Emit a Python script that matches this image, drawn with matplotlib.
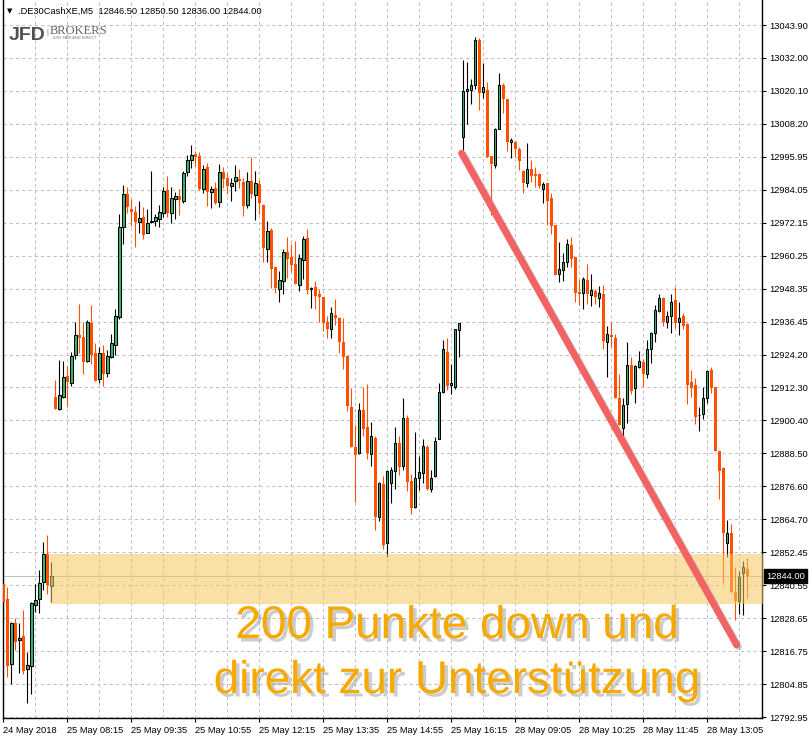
import numpy as np
import matplotlib.pyplot as plt
import matplotlib.patheffects as pe

plt.rcParams['font.family'] = ['Liberation Sans', 'DejaVu Sans']

# M5 candles, .DE30CashXE, 24-28 May 2018
opens = [
    12841.2, 12835.7, 12812.2, 12827.0, 12820.9, 12822.3, 12810.4, 12811.6, 12833.6, 12835.7,
    12841.9, 12852.1, 12840.5, 12908.9, 12904.5, 12908.9, 12916.6, 12914.2, 12924.1, 12931.5,
    12930.8, 12922.2, 12935.9, 12924.8, 12915.4, 12924.8, 12917.8, 12923.6, 12927.7, 12938.1,
    12970.5, 12982.6, 12977.1, 12976.1, 12972.6, 12974.2, 12968.4, 12972.6, 12972.7, 12973.7,
    12975.6, 12984.1, 12975.8, 12980.9, 12981.9, 12980.2, 12990.5, 12995.0, 12997.1, 12996.4,
    12984.3, 12992.3, 12983.2, 12984.7, 12979.8, 12990.6, 12988.3, 12985.4, 12987.2, 12988.0,
    12987.0, 12978.6, 12987.3, 12982.1, 12986.2, 12978.6, 12962.6, 12969.6, 12956.0, 12948.1,
    12951.1, 12961.5, 12959.7, 12957.2, 12949.7, 12958.6, 12966.6, 12948.2, 12948.8, 12946.4,
    12945.3, 12936.2, 12933.6, 12938.7, 12937.6, 12929.0, 12923.9, 12905.5, 12891.0, 12888.6,
    12904.3, 12898.0, 12888.2, 12894.1, 12865.6, 12877.4, 12856.2, 12877.9, 12882.3, 12892.2,
    12884.1, 12901.3, 12878.4, 12869.2, 12879.5, 12881.6, 12891.0, 12875.5, 12880.3, 12893.9,
    12910.8, 12925.3, 12913.2, 12912.7, 12933.3, 13003.4, 13020.1, 13020.3, 13022.0, 13038.5,
    13019.5, 13020.3, 12996.4, 12993.2, 13006.3, 13022.0, 13017.2, 13001.4, 13001.5, 12998.9,
    12991.1, 12986.7, 12991.6, 12989.9, 12989.9, 12984.5, 12986.5, 12981.2, 12971.4, 12953.6,
    12955.0, 12958.1, 12964.1, 12959.9, 12947.1, 12946.8, 12951.4, 12946.0, 12947.6, 12945.0,
    12946.5, 12929.1, 12931.4, 12930.5, 12908.5, 12897.9, 12906.3, 12920.5, 12912.4, 12919.8,
    12921.6, 12917.3, 12926.3, 12932.3, 12940.2, 12944.8, 12936.3, 12938.3, 12944.0, 12936.3,
    12938.4, 12935.4, 12914.4, 12913.5, 12902.3, 12902.7, 12908.5, 12918.8, 12912.5, 12889.5,
    12883.4, 12856.2, 12859.6, 12838.2, 12834.9, 12845.1, 12846.5]
highs = [
    12843.4, 12840.1, 12827.5, 12829.0, 12827.0, 12831.8, 12816.6, 12834.8, 12841.2, 12846.3,
    12856.4, 12859.0, 12849.3, 12915.2, 12922.4, 12922.1, 12920.2, 12925.3, 12936.2, 12942.7,
    12936.3, 12936.9, 12942.4, 12928.6, 12927.2, 12928.0, 12926.0, 12931.8, 12940.8, 12975.4,
    12985.9, 12985.3, 12980.9, 12978.3, 12980.1, 12977.8, 12977.2, 12991.0, 12975.4, 12978.5,
    12985.3, 12989.3, 12985.1, 12983.4, 12984.4, 12991.1, 12996.9, 13000.4, 12998.2, 12997.9,
    12993.1, 12993.9, 12985.5, 12987.0, 12993.5, 12992.5, 12990.3, 12988.5, 12993.1, 12991.7,
    12988.3, 12990.6, 12996.2, 12991.0, 12987.7, 12978.9, 12972.8, 12970.2, 12956.0, 12954.7,
    12962.6, 12967.1, 12964.4, 12965.6, 12960.9, 12967.4, 12970.0, 12948.8, 12951.2, 12948.3,
    12945.3, 12938.4, 12941.6, 12944.5, 12938.1, 12937.6, 12923.9, 12912.3, 12898.8, 12906.7,
    12912.5, 12913.7, 12899.9, 12894.8, 12878.3, 12880.3, 12882.5, 12883.7, 12898.0, 12894.8,
    12908.6, 12902.4, 12881.1, 12896.3, 12887.6, 12893.9, 12891.6, 12882.5, 12894.6, 12914.0,
    12929.7, 12930.4, 12921.0, 12933.8, 12935.9, 13031.2, 13030.5, 13024.2, 13039.7, 13039.1,
    13030.2, 13023.3, 12996.4, 13006.6, 13026.4, 13022.8, 13017.2, 13002.8, 13001.9, 12999.8,
    12991.3, 13001.0, 12994.9, 12992.5, 12990.1, 12987.0, 12986.7, 12982.9, 12971.4, 12965.2,
    12961.1, 12966.2, 12966.9, 12959.9, 12951.4, 12952.6, 12957.2, 12953.6, 12948.1, 12949.3,
    12949.5, 12934.7, 12936.2, 12931.7, 12917.3, 12908.5, 12929.0, 12923.4, 12920.7, 12925.6,
    12922.7, 12929.7, 12932.7, 12942.4, 12946.4, 12945.4, 12940.3, 12946.4, 12949.0, 12943.6,
    12939.6, 12935.7, 12918.8, 12915.8, 12905.5, 12912.5, 12918.8, 12920.0, 12912.5, 12889.5,
    12883.7, 12864.4, 12863.0, 12847.2, 12846.0, 12849.5, 12850.5]
lows = [
    12827.5, 12807.5, 12804.9, 12817.3, 12809.0, 12808.5, 12798.0, 12801.3, 12831.1, 12830.8,
    12839.0, 12837.6, 12834.8, 12904.5, 12904.3, 12908.6, 12905.5, 12913.0, 12922.9, 12925.1,
    12917.3, 12921.7, 12921.0, 12914.8, 12913.9, 12913.0, 12916.1, 12923.1, 12924.1, 12937.2,
    12964.5, 12975.8, 12971.0, 12963.3, 12968.6, 12966.4, 12968.4, 12972.0, 12971.0, 12970.8,
    12974.2, 12974.4, 12972.0, 12973.7, 12975.0, 12979.5, 12989.3, 12992.2, 12992.8, 12984.1,
    12982.9, 12978.4, 12977.6, 12979.0, 12977.8, 12984.7, 12982.6, 12980.2, 12983.7, 12984.7,
    12974.7, 12977.4, 12981.3, 12973.2, 12975.4, 12958.1, 12958.1, 12948.6, 12946.8, 12943.6,
    12946.2, 12952.0, 12954.4, 12950.1, 12947.6, 12951.7, 12946.2, 12941.4, 12940.8, 12936.1,
    12933.0, 12930.3, 12930.5, 12935.2, 12925.1, 12919.3, 12904.0, 12891.0, 12871.0, 12888.4,
    12894.8, 12886.6, 12884.1, 12860.8, 12864.1, 12853.8, 12851.1, 12870.7, 12875.7, 12880.8,
    12882.5, 12875.0, 12866.6, 12868.7, 12875.3, 12877.9, 12875.3, 12874.7, 12880.1, 12893.7,
    12910.6, 12911.5, 12910.1, 12912.0, 12923.6, 12998.6, 13008.0, 13015.3, 13020.6, 13013.1,
    13017.3, 12996.1, 12975.0, 12992.2, 13006.1, 13012.1, 12998.3, 12995.7, 12996.1, 12991.3,
    12983.1, 12985.0, 12987.1, 12985.0, 12984.8, 12979.5, 12971.4, 12968.1, 12953.2, 12950.8,
    12951.2, 12956.3, 12956.3, 12943.6, 12942.4, 12940.8, 12942.7, 12942.1, 12942.6, 12941.5,
    12926.3, 12916.4, 12927.2, 12908.7, 12898.7, 12892.4, 12899.5, 12910.0, 12906.9, 12919.4,
    12912.7, 12915.8, 12921.2, 12929.1, 12939.8, 12934.7, 12934.1, 12932.3, 12934.1, 12931.5,
    12933.6, 12906.4, 12908.9, 12899.2, 12896.8, 12901.0, 12906.7, 12910.4, 12889.5, 12872.1,
    12841.4, 12851.1, 12837.8, 12828.1, 12830.3, 12830.0, 12836.0]
closes = [
    12834.8, 12811.6, 12827.0, 12820.3, 12821.6, 12809.7, 12811.8, 12834.3, 12835.4, 12841.5,
    12852.1, 12840.8, 12844.1, 12904.8, 12909.6, 12916.2, 12914.4, 12923.9, 12931.5, 12930.5,
    12921.7, 12936.2, 12924.3, 12914.9, 12924.8, 12917.3, 12923.9, 12928.5, 12938.4, 12970.5,
    12982.6, 12977.8, 12976.1, 12972.5, 12973.8, 12967.9, 12972.0, 12972.8, 12974.4, 12976.1,
    12983.7, 12975.6, 12981.1, 12981.8, 12980.4, 12990.1, 12994.8, 12996.6, 12996.2, 12984.3,
    12991.6, 12983.2, 12984.3, 12979.5, 12990.5, 12988.2, 12985.6, 12986.5, 12988.7, 12987.4,
    12978.4, 12987.4, 12982.5, 12986.5, 12979.2, 12962.9, 12969.1, 12955.5, 12948.6, 12951.4,
    12961.5, 12959.2, 12956.8, 12950.1, 12959.3, 12966.2, 12947.8, 12948.4, 12945.8, 12945.4,
    12935.7, 12933.6, 12939.4, 12937.8, 12929.0, 12923.6, 12905.7, 12891.0, 12888.0, 12904.3,
    12897.5, 12888.6, 12894.8, 12865.6, 12877.7, 12855.2, 12882.1, 12882.5, 12892.2, 12883.5,
    12901.3, 12878.3, 12868.7, 12879.5, 12881.7, 12891.2, 12875.7, 12879.5, 12893.0, 12910.8,
    12926.3, 12913.0, 12914.0, 12933.6, 12935.7, 13019.9, 13020.6, 13022.0, 13038.5, 13019.4,
    13021.3, 12996.1, 12993.5, 13006.1, 13022.0, 13017.2, 13001.6, 13002.2, 12999.1, 12994.7,
    12986.5, 12991.6, 12989.2, 12989.2, 12985.5, 12986.2, 12980.2, 12971.1, 12953.2, 12955.3,
    12957.9, 12964.4, 12959.0, 12946.6, 12946.2, 12951.8, 12946.2, 12947.7, 12945.4, 12946.6,
    12929.4, 12931.7, 12930.6, 12908.7, 12898.7, 12906.1, 12920.7, 12911.3, 12920.2, 12922.0,
    12917.3, 12926.4, 12932.1, 12940.5, 12944.8, 12936.3, 12938.3, 12943.3, 12936.0, 12937.6,
    12934.7, 12913.4, 12912.3, 12901.6, 12902.5, 12908.5, 12918.4, 12912.4, 12889.5, 12882.3,
    12859.6, 12859.8, 12838.2, 12835.1, 12843.8, 12847.2, 12844.0]

price_labels = ['12792.95', '12804.85', '12816.75', '12828.65', '12840.55', '12852.45',
                '12864.70', '12876.60', '12888.50', '12900.40', '12912.30', '12924.20',
                '12936.45', '12948.35', '12960.25', '12972.15', '12984.05', '12995.95',
                '13008.20', '13020.10', '13032.00', '13043.90']
time_labels = ['24 May 2018', '25 May 08:15', '25 May 09:35', '25 May 10:55',
               '25 May 12:15', '25 May 13:35', '25 May 14:55', '25 May 16:15',
               '28 May 09:05', '28 May 10:25', '28 May 11:45', '28 May 13:05']

support_lo, support_hi = 12833.9, 12852.0
support_start = 11.7
trend_x = [114.6, 183.35]
trend_y = [12997.4, 12819.1]
last_price = 12844.00

up_col = '#3cb371'
dn_col = '#ff4f00'

fig = plt.figure(figsize=(8.09, 7.41), dpi=100)
ax = fig.add_axes([2.7 / 809, 23 / 741, 759.3 / 809, 718 / 741])
ax.set_xlim(-0.15, 189.7)
ax.set_ylim(12792.59, 13052.97)

o = np.array(opens)
h = np.array(highs)
l = np.array(lows)
c = np.array(closes)
x = np.arange(len(o))
up = c >= o

# grid
yt = np.linspace(12792.95, 13043.90, len(price_labels))
for v in yt:
    ax.axhline(v, color='#c0c0c0', lw=0.75, ls=(0, (3, 3)), zorder=0)
for v in np.arange(8, 190, 8):
    ax.axvline(v, color='#c0c0c0', lw=0.75, ls=(0, (3, 3)), zorder=0)

ax.axhline(last_price, color='#c0c0c0', lw=0.8, zorder=0.5)

# candles
ax.vlines(x[up], l[up], h[up], color='black', lw=0.8, zorder=2)
ax.vlines(x[~up], l[~up], h[~up], color=dn_col, lw=0.8, zorder=2)
body = np.maximum(np.abs(c - o), 0.15)
ax.bar(x[up], body[up], bottom=np.minimum(o, c)[up], width=0.62,
       color=up_col, edgecolor='black', linewidth=0.75, zorder=3)
ax.bar(x[~up], body[~up], bottom=np.minimum(o, c)[~up], width=0.75,
       color=dn_col, linewidth=0, zorder=3)

# support zone
ax.fill_between([support_start, 190], support_lo, support_hi,
                color='#f6c75d', alpha=0.55, lw=0, zorder=4)

# trend line
ax.plot(trend_x, trend_y, color='#f26464', lw=5, solid_capstyle='round', zorder=5,
        path_effects=[pe.SimpleLineShadow(offset=(1.5, -1.5), shadow_color='gray', alpha=0.35),
                      pe.Normal()])

# axes styling
for s in ['left', 'bottom', 'right']:
    ax.spines[s].set_color('black')
    ax.spines[s].set_linewidth(1)
ax.spines['top'].set_visible(False)

ax.yaxis.tick_right()
ax.set_yticks(yt)
ax.set_yticklabels(price_labels)
ax.set_xticks(np.arange(0, 16 * len(time_labels), 16))
ax.set_xticklabels(time_labels, ha='left')
ax.tick_params(axis='y', length=3, width=0.8, pad=2, labelsize=6.7)
ax.tick_params(axis='x', length=3, width=0.8, pad=2.5, labelsize=6.7)

# current price tag
ax.annotate(f'{last_price:.2f}', xy=(1, last_price), xycoords=('axes fraction', 'data'),
            xytext=(3, 0), textcoords='offset points', ha='left', va='center',
            fontsize=6.7, color='white',
            bbox=dict(boxstyle='square,pad=0.25', fc='black', ec='black'), zorder=10,
            annotation_clip=False)

# header
fig.text(7 / 809, 1 - 11 / 741, '\u25bc', fontsize=5, va='center', family='DejaVu Sans')
fig.text(18 / 809, 1 - 11 / 741, '.DE30CashXE,M5  12846.50 12850.50 12836.00 12844.00',
         fontsize=6.7, va='center')

# logo
fig.text(9 / 809, 1 - 39.5 / 741, 'JFD', fontsize=14, fontweight='bold', color='#505050',
         va='baseline')
fig.text(46 / 809, 1 - 34 / 741, '|', fontsize=5, color='#777777', va='baseline')
fig.text(50 / 809, 1 - 34.5 / 741, 'BROKERS', fontsize=9, color='#666666', va='baseline',
         family='Liberation Serif')
fig.text(52 / 809, 1 - 39 / 741, 'JUST FAIR AND DIRECT', fontsize=2.8, color='#777777',
         va='baseline')

# annotation
shadow = [pe.withSimplePatchShadow(offset=(2.5, -2.5), shadow_rgbFace='gray', alpha=0.4)]
fig.text(457 / 809, 1 - 638 / 741, '200 Punkte down und', fontsize=33, color='#f8a900',
         ha='center', va='baseline', path_effects=shadow)
fig.text(457 / 809, 1 - 693 / 741, 'direkt zur Unterstützung', fontsize=33, color='#f8a900',
         ha='center', va='baseline', path_effects=shadow)

plt.savefig('out.png', dpi=100)
